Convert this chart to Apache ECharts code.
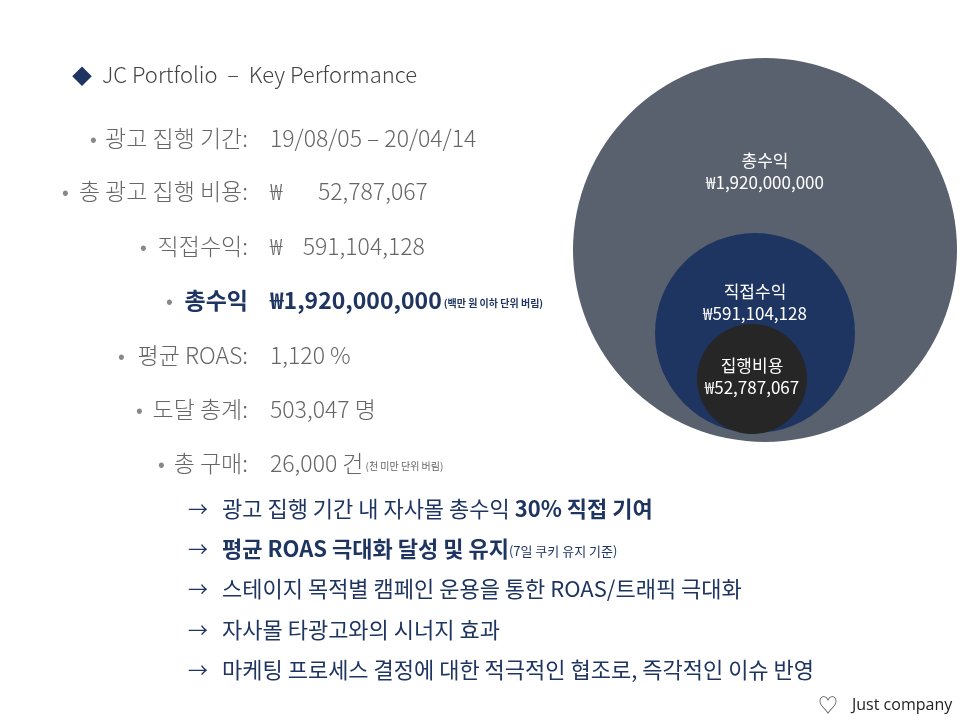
<!DOCTYPE html>
<html><head><meta charset="utf-8">
<script src="https://cdn.jsdelivr.net/npm/echarts@6/dist/echarts.min.js"></script>
<style>html,body{margin:0;background:#fff}#c{width:960px;height:720px}</style>
</head><body><div id="c"></div>
<script>
// 원 데이터
var circleNames = ['총수익', '직접수익', '집행비용'];
var circleValues = ['₩1,920,000,000', '₩591,104,128', '₩52,787,067'];
var circleColors = ['#59606e', '#1f3561', '#262626'];
// 왼쪽 지표
var kpiLabels = ['광고 집행 기간:', '총 광고 집행 비용:', '직접수익:', '총수익', '평균 ROAS:', '도달 총계:', '총 구매:'];
var kpiValues = ['19/08/05 – 20/04/14', '₩       52,787,067', '₩    591,104,128', '₩1,920,000,000', '1,120 %', '503,047 명', '26,000 건'];
var kpiNotes = ['', '', '', '(백만 원 이하 단위 버림)', '', '', '(천 미만 단위 버림)'];
var points = [
  [{t: '광고 집행 기간 내 자사몰 총수익 '}, {t: '30% 직접 기여', b: 1}],
  [{t: '평균 ROAS 극대화 달성 및 유지', b: 1}, {t: '(7일 쿠키 유지 기준)', s: 1}],
  [{t: '스테이지 목적별 캠페인 운용을 통한 ROAS/트래픽 극대화'}],
  [{t: '자사몰 타광고와의 시너지 효과'}],
  [{t: '마케팅 프로세스 결정에 대한 적극적인 협조로, 즉각적인 이슈 반영'}]
];

var chart = echarts.init(document.getElementById('c'));
var F = '"Noto Sans CJK KR","Noto Sans",sans-serif';
var g = [];
g.push({type: 'text', left: 72, top: 66, style: {text: '◆', fill: '#1f3561', font: '20px ' + F}});
g.push({type: 'text', left: 102, top: 64, style: {text: 'JC Portfolio  –  Key Performance', fill: '#444', font: '300 22px ' + F}});
var ys = [138, 191, 246, 300, 355, 409, 463];
var bx = [90, 62, 140, 166, 118, 136, 158];
kpiLabels.forEach(function (l, i) {
  var bold = i === 3;
  var col = bold ? '#1f3561' : '#666';
  g.push({type: 'text', x: bx[i], y: ys[i], style: {text: '•', fill: '#888', font: '20px ' + F, verticalAlign: 'middle'}});
  g.push({type: 'text', x: 248, y: ys[i], style: {text: l, fill: col, align: 'right', font: (bold ? 'bold ' : '300 ') + '23px ' + F, verticalAlign: 'middle'}});
  g.push({type: 'text', x: 270, y: ys[i], style: {
    text: '{v|' + kpiValues[i] + '}' + (kpiNotes[i] ? '{n|' + kpiNotes[i] + '}' : ''),
    verticalAlign: 'middle',
    rich: {
      v: {fill: col, fontFamily: F, fontSize: 23, fontWeight: bold ? 'bold' : 300},
      n: {fill: col, fontFamily: F, fontSize: 10, fontWeight: bold ? 'bold' : 'normal', padding: [6, 0, 0, 2]}
    }
  }});
});
var py = [509, 549, 589, 630, 670];
points.forEach(function (p, i) {
  g.push({type: 'text', x: 188, y: py[i], style: {text: '→', fill: '#1f3561', font: '20px ' + F, verticalAlign: 'middle'}});
  var s = p.map(function (seg) { return '{' + (seg.b ? 'b' : seg.s ? 's' : 't') + '|' + seg.t + '}'; }).join('');
  g.push({type: 'text', x: 222, y: py[i], style: {text: s, verticalAlign: 'middle', rich: {
    t: {fill: '#1f3561', fontFamily: F, fontSize: 22},
    b: {fill: '#1f3561', fontFamily: F, fontSize: 22, fontWeight: 'bold'},
    s: {fill: '#1f3561', fontFamily: F, fontSize: 13, padding: [5, 0, 0, 0]}
  }}});
});
g.push({type: 'text', left: 818, top: 695, style: {text: '♡', fill: '#555', font: '20px ' + F}});
g.push({type: 'text', left: 852, top: 697, style: {text: 'Just company', fill: '#222', font: '16px "Open Sans",sans-serif'}});

var centers = [[765, 250], [755, 333], [752, 379]];
var sizes = [384, 200, 110];
var labelPos = [[0, -78], [0, -30], [0, -2]];
chart.setOption({
  animation: false,
  graphic: g,
  grid: {left: 0, right: 0, top: 0, bottom: 0},
  xAxis: {type: 'value', min: 0, max: 960, show: false},
  yAxis: {type: 'value', min: 0, max: 720, inverse: true, show: false},
  series: [{
    type: 'scatter',
    data: circleNames.map(function (n, i) {
      return {
        value: centers[i], name: n, symbolSize: sizes[i],
        itemStyle: {color: circleColors[i], opacity: 1},
        label: {show: true, offset: labelPos[i], formatter: n + '\n' + circleValues[i], color: '#fff', fontFamily: F, fontSize: 17, lineHeight: 22}
      };
    }),
    symbol: 'circle'
  }]
});
</script></body></html>
